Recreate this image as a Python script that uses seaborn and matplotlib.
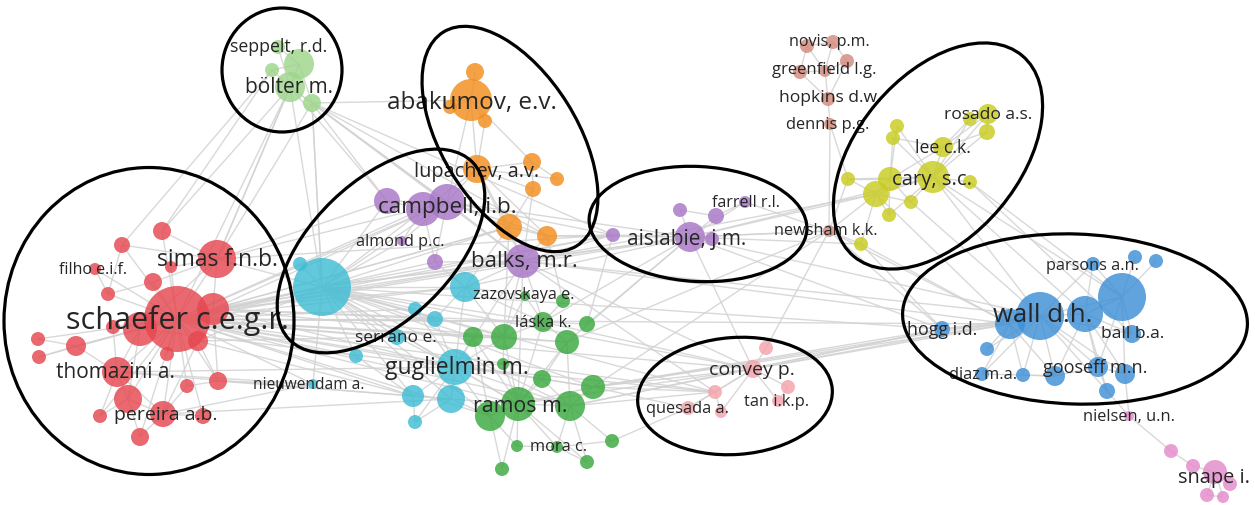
import matplotlib
matplotlib.use("Agg")
import matplotlib.pyplot as plt
import seaborn as sns
import pandas as pd
from matplotlib.collections import LineCollection
from matplotlib.patches import Ellipse

# ---------------- data ----------------
node_ids = [
    "r0","r1","r2","r3","r4","r5","r6","r7","r8","r9","r10","r11","r12","r13","r14","r15","r16","r17","r18","r19","r20","r21","r22","r23",
    "c0","c1","c2","c3","c4","c5","c6","c7","c8","c9","c10","c11",
    "g0","g1","g2","g3","g4","g5","g6","g7","g8","g9","g10","g11","g12","g13","g14","g15","g16","g17",
    "p0","p1","p2","p3","p4","p5","p6","p7","p8","p9","p10","p11",
    "o0","o1","o2","o3","o4","o5","o6","o7","o8","o9",
    "l0","l1","l2","l3","l4",
    "b0","b1","b2","b3","b4","b5","b6","b7",
    "y0","y1","y2","y3","y4","y5","y6","y7","y8","y9","y10","y11","y12","y13",
    "k0","k1","k2","k3","k4","k5","k6",
    "w0","w1","w2","w3","w4","w5","w6","w7","w8","w9","w10","w11","w12","w13","w14","w15",
    "m0","m1","m2","m3","m4","m5","m6",
]
node_x = [
    177,213,140,217,162,122,95,171,153,108,113,38,39,76,198,167,117,187,218,128,163,203,100,140,
    322,300,465,415,435,397,356,455,313,413,451,415,
    525,563,543,587,473,504,567,503,542,593,518,490,570,557,517,612,587,502,
    387,423,447,402,435,523,613,690,680,716,712,745,
    475,471,485,450,477,532,557,533,509,547,
    278,299,272,290,312,
    807,833,800,847,825,828,830,829,
    897,893,988,970,987,943,933,890,876,848,911,889,970,861,
    766,753,788,778,715,688,721,
    1040,1010,1085,1122,1093,1135,1156,1132,942,987,982,1023,1055,1098,1125,1107,
    1129,1171,1193,1215,1230,1207,1223,
]
node_y = [
    320,310,330,260,232,246,270,268,283,295,328,340,358,347,342,355,373,387,382,400,415,417,417,438,
    288,265,288,310,320,338,357,368,385,397,400,423,
    297,302,323,325,338,338,343,365,380,388,405,417,407,448,447,442,463,470,
    202,210,203,242,263,262,236,238,211,217,240,203,
    73,101,122,108,170,163,180,190,228,237,
    48,65,71,88,104,
    47,43,73,62,72,100,125,232,
    127,139,115,120,133,148,178,180,195,180,203,216,183,245,
    349,370,388,402,393,409,413,
    317,325,315,298,265,258,262,335,330,350,375,376,377,368,375,392,
    417,452,467,473,485,496,498,
]
node_r = [
    33,16,17,19,9,8,6,6,9,7,7,7,7,10,10,7,15,7,9,14,13,8,7,9,
    29,7,15,7,8,8,7,18,5,11,14,7,
    5,7,10,8,10,13,12,6,9,12,17,15,15,6,6,7,7,7,
    13,17,18,5,8,17,7,15,7,8,7,6,
    9,21,7,7,14,9,7,8,13,10,
    7,15,7,15,9,
    7,7,7,7,6,7,6,6,
    7,7,10,7,8,10,16,12,13,7,7,7,7,7,
    7,9,7,6,7,7,6,
    24,15,18,24,7,7,7,9,8,7,7,7,10,10,10,8,
    5,7,7,12,7,7,6,
]
node_cluster = (["red"] * 24 + ["cyan"] * 12 + ["green"] * 18 + ["purple"] * 12 +
                ["orange"] * 10 + ["lightgreen"] * 5 + ["brown"] * 8 + ["yellow"] * 14 +
                ["pink"] * 7 + ["blue"] * 16 + ["magenta"] * 7)

cluster_colors = {
    "red": "#e6474f", "cyan": "#3fbcd4", "green": "#3aa93f", "purple": "#a877c6",
    "orange": "#f28e1c", "lightgreen": "#9ed58a", "brown": "#d38a7c", "yellow": "#c9cc1f",
    "pink": "#f4a3ab", "blue": "#3e8fd6", "magenta": "#e48bcb",
}

adjacency = {
    "r0": ["r1","r2","r3","r4","r5","r6","r7","r8","r9","r10","r11","r12","r13","r14","r15","r16","r17","r18","r19","r20","r21","r22","r23",
           "c0","c2","c7","c5","c6","c8","p2","p1","p5","p7","g10","g5","g2","o8","k1","w1","l3","c9","g12","k4",
           "g4","g11","g9","p4","c3","c4","p6","g6"],
    "r3": ["r1","r4","r7","r8","r5","r2","c0","l3","p2","l4","p0","p6"],
    "r1": ["c0","c2","c7","p5","g5","p2","o8","c4","g2"],
    "r2": ["c0","c7"],
    "r16": ["r2","r13","r19","r20","r10","r22","c7","c8","c10"],
    "r19": ["r20","r22","r23","r2"],
    "r20": ["r21","r23","r14","r17","c8","c10"],
    "r13": ["r11","r12","r2"],
    "r9": ["r6","r5","r8"],
    "r18": ["r14","r17","r1","c8","c9"],
    "r14": ["c5","c9","c0"],
    "r4": ["l2","l3"],
    "c0": ["c1","c2","c3","c4","c5","c6","c7","c8","c9","c10","p0","p2","p3","p5","g5","g10","l3","l4","o4","p7","k1",
           "g4","g11","g12","p6","k4","w8","o8","g2","g9"],
    "c7": ["c2","c3","c4","c5","c9","c10","c11","g4","g5","g7","g10","g11","g8","p5","k4","g12"],
    "c2": ["p5","p4","g0","g5","g2","c4","p7","o8"],
    "c10": ["c9","c11","g11","g10"],
    "c9": ["c11","c6"],
    "g10": ["g11","g12","g8","g7","g5","g4","g6","g9","g13","g14","g16","g17","g2","p5","k1"],
    "g12": ["g9","g6","g13","g15","g16","g8","k1","k4","w8"],
    "g5": ["g4","g2","g6","g0","g7","p5","o8"],
    "g2": ["g0","g1","g3","g6","p5","k1","p7"],
    "g8": ["g9","g6"],
    "g11": ["g14","g17","g4"],
    "g13": ["g14","g15","g16"],
    "g9": ["k4","k5","w8","w1","k1"],
    "g6": ["p7","b7"],
    "g3": ["p7","p6"],
    "g1": ["o9"],
    "g15": ["k5"],
    "p2": ["p0","p1","p3","p4","p5","o4","o8","o9","o1","p7","l3","p6"],
    "p1": ["p0","p3","p4"],
    "p5": ["p4","o8","o9","o4","p7","p6","k1","k4","w1","w0","o7","y8"],
    "p7": ["p6","p8","p9","p10","p11","b7","y8","k1","w8","w0","y13","y6"],
    "p9": ["p8","p11"],
    "p0": ["l3","l4"],
    "p6": ["o9"],
    "o1": ["o0","o2","o3","o4","o5","l4"],
    "o4": ["o2","o5","o6","o7","o8","o9"],
    "o8": ["o9","o7"],
    "o5": ["o6","o7"],
    "o9": ["p7"],
    "l1": ["l0","l2","l3","l4"],
    "l3": ["l0","l2","l4","r3"],
    "l2": ["r5"],
    "l4": ["p2","c0","p5","o9","p6"],
    "b0": ["b1","b2","b4"],
    "b1": ["b3","b4"],
    "b2": ["b4","b5"],
    "b3": ["b4","b5"],
    "b5": ["b6","b4"],
    "b6": ["b7","y9"],
    "b7": ["y9","y13","y8","p7","p11","k0","w8","w1","g9"],
    "y6": ["y5","y7","y8","y10","y12","y2","y3","y4","y11","y9","y0","y1","w0","w3","w2"],
    "y7": ["y8","y9","y0","y1","y11","y10","y5"],
    "y8": ["y9","y11","y13","y10","w1"],
    "y5": ["y3","y2","y4","y1"],
    "y2": ["y3","y4"],
    "y13": ["w1","w8"],
    "y12": ["w3","w7"],
    "y10": ["w0"],
    "k1": ["k0","k2","k3","k4","k5","k6","w1","w8","w0"],
    "k4": ["k5","k6"],
    "k2": ["k3"],
    "w0": ["w1","w2","w3","w4","w7","w8","w9","w10","w11","w12","w13","w14","w15","g9"],
    "w2": ["w3","w4","w7","w12","w13","w14","w15"],
    "w3": ["w4","w5","w6","w7","w13","w14"],
    "w1": ["w8","w9","w10","w11","w12"],
    "w13": ["w14","w15","w12"],
    "w12": ["w11","w10"],
    "w15": ["m0"],
    "w14": ["m0"],
    "m0": ["m1"],
    "m1": ["m2"],
    "m2": ["m3"],
    "m3": ["m4","m5","m6"],
    "m5": ["m6"],
}

label_texts = ["schaefer c.e.g.r.","simas f.n.b.","filho e.i.f.","thomazini a.","pereira a.b.",
               "guglielmin m.","serrano e.","nieuwendam a.","zazovskaya e.","láska k.","ramos m.","mora c.",
               "campbell, i.b.","almond p.c.","balks, m.r.","aislabie, j.m.","farrell r.l.",
               "abakumov, e.v.","lupachev, a.v.","seppelt, r.d.","bölter m.",
               "novis, p.m.","greenfield l.g.","hopkins d.w.","dennis p.g.","newsham k.k.",
               "rosado a.s.","lee c.k.","cary, s.c.","convey p.","tan i.k.p.","quesada a.",
               "wall d.h.","parsons a.n.","ball b.a.","hogg i.d.","diaz m.a.","gooseff m.n.",
               "nielsen, u.n.","snape i."]
label_x = [177,217,93,115,166, 457,396,309,524,543,520,559, 447,400,524,687,746,
           472,477,279,289, 829,824,830,828,826, 988,943,932,752,777,688,
           1043,1093,1133,942,983,1095, 1129,1214]
label_y = [320,260,270,373,415, 368,338,385,295,323,407,447, 208,242,262,239,203,
           103,172,47,87, 42,70,98,125,231, 115,148,180,370,402,409,
           315,266,334,330,375,368, 417,478]
label_size = [22,16.5,11.5,15,14, 16.5,12.5,11.2,11.6,12,15.3,11.8, 16.2,11.7,16,15,11.5,
              17.5,14.3,12.8,15, 11.6,12,12.6,11.8,11.7, 12.6,12.8,14.6,14,11.8,11.8,
              18.5,11.7,12.6,12.8,11.8,13, 11.8,14.4]

# ellipses: centre x, centre y, width, height, screen angle (deg, ccw)
ell_cx = [149, 282, 510, 381, 698, 938, 1075, 735]
ell_cy = [322, 71, 140, 252, 225, 157, 320, 397]
ell_w = [290, 120, 252, 255, 218, 262, 345, 195]
ell_h = [307, 124, 135, 140, 115, 162, 170, 117]
ell_ang = [0, 0, -58, 44, -3, 50, -2, 4]

# ---------------- plotting ----------------
sns.set_theme(style="white")
plt.rcParams["font.family"] = ["Open Sans", "DejaVu Sans"]

W, H = 1255, 506
fig = plt.figure(figsize=(W / 100, H / 100), dpi=100)
ax = fig.add_axes([0, 0, 1, 1])

df = pd.DataFrame({"id": node_ids, "x": node_x, "y": node_y, "r": node_r, "cluster": node_cluster})
df["s"] = (2 * df["r"] * 0.72) ** 2
pos = {i: (x, y) for i, x, y in zip(node_ids, node_x, node_y)}

segs = []
for a, nbrs in adjacency.items():
    for b in nbrs:
        segs.append([pos[a], pos[b]])
ax.add_collection(LineCollection(segs, colors="#d2d2d2", linewidths=1.0, alpha=0.85, zorder=1))

df_sorted = df.sort_values("r", ascending=False)
sns.scatterplot(data=df_sorted, x="x", y="y", hue="cluster", palette=cluster_colors,
                s=df_sorted["s"].values, alpha=0.82, linewidth=0, legend=False, ax=ax, zorder=2)

for t, x, y, fs in zip(label_texts, label_x, label_y, label_size):
    ax.text(x, y, t, ha="center", va="center", fontsize=fs, color="#262626", zorder=3)

for cx, cy, w, h, a in zip(ell_cx, ell_cy, ell_w, ell_h, ell_ang):
    ax.add_patch(Ellipse((cx, cy), w, h, angle=-a, fill=False, edgecolor="black", linewidth=2.3, zorder=4))

ax.set_xlim(0, W)
ax.set_ylim(H, 0)
ax.set_axis_off()
fig.savefig("out.png", dpi=100)
